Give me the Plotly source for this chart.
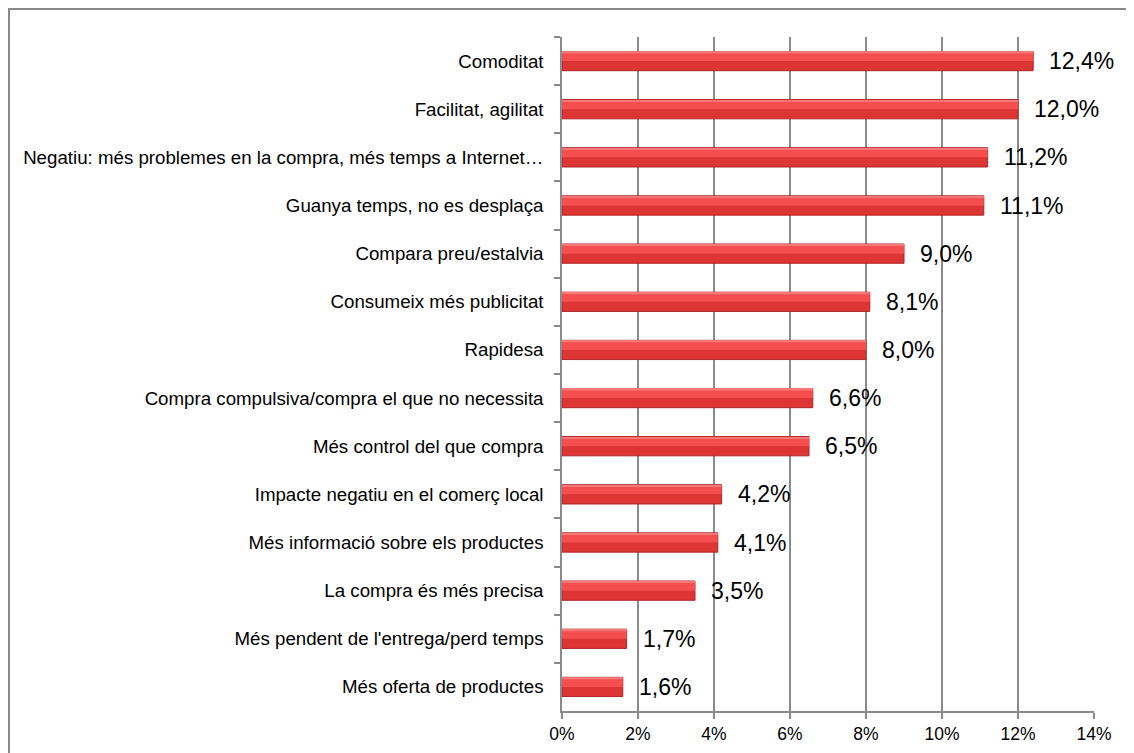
import plotly.graph_objects as go

categories = [
    "Comoditat",
    "Facilitat, agilitat",
    "Negatiu: més problemes en la compra, més temps a Internet…",
    "Guanya temps, no es desplaça",
    "Compara preu/estalvia",
    "Consumeix més publicitat",
    "Rapidesa",
    "Compra compulsiva/compra el que no necessita",
    "Més control del que compra",
    "Impacte negatiu en el comerç local",
    "Més informació sobre els productes",
    "La compra és més precisa",
    "Més pendent de l'entrega/perd temps",
    "Més oferta de productes",
]
values = [12.4, 12.0, 11.2, 11.1, 9.0, 8.1, 8.0, 6.6, 6.5, 4.2, 4.1, 3.5, 1.7, 1.6]
labels = [f"{v:.1f}%".replace(".", ",") for v in values]
x_ticks = [0, 2, 4, 6, 8, 10, 12, 14]
x_ticktext = [f"{t}%" for t in x_ticks]

FONT = "Liberation Sans, Arial, sans-serif"
W = 0.40
L, R, T, B = 554, 48, 29, 50
PW, PH = 1134 - L - R, 753 - T - B

fig = go.Figure()
# base bar (darker lower part)
fig.add_trace(go.Bar(
    y=categories, x=values, orientation="h", width=W, offset=-W / 2,
    marker=dict(color="#dd3434", line=dict(color="#b02626", width=1)),
    hoverinfo="skip", showlegend=False,
))
# upper highlight
fig.add_trace(go.Bar(
    y=categories, x=values, orientation="h", width=W * 0.45, offset=-W / 2 + 0.02,
    marker=dict(color="#f44e4e", line=dict(width=0)),
    hoverinfo="skip", showlegend=False,
))
# thin top light line
fig.add_trace(go.Bar(
    y=categories, x=values, orientation="h", width=W * 0.08, offset=-W / 2 + 0.01,
    marker=dict(color="#f87878", line=dict(width=0)),
    hoverinfo="skip", showlegend=False,
))

annotations = []
for c, v, t in zip(categories, values, labels):
    annotations.append(dict(
        x=v, y=c, xref="x", yref="y", text=t, showarrow=False,
        xanchor="left", yanchor="middle", xshift=14,
        font=dict(family=FONT, size=23, color="#000000"),
    ))

fig.update_layout(
    width=1134, height=753,
    margin=dict(l=L, r=R, t=T, b=B, autoexpand=False),
    paper_bgcolor="white", plot_bgcolor="white",
    barmode="overlay",
    font=dict(family=FONT, color="#000000"),
    annotations=annotations,
    xaxis=dict(
        range=[0, 14], tickvals=x_ticks, ticktext=x_ticktext,
        showgrid=True, gridcolor="#8a8a8a", gridwidth=1.5,
        showline=True, linecolor="#8a8a8a", linewidth=1.5,
        ticks="outside", ticklen=6, tickcolor="#8a8a8a", tickwidth=1.5,
        tickfont=dict(family=FONT, size=17.5, color="#000000"),
        zeroline=False, fixedrange=True,
    ),
    yaxis=dict(
        autorange="reversed", tickson="boundaries",
        showline=True, linecolor="#8a8a8a", linewidth=1.5,
        ticks="outside", ticklen=6, tickcolor="#8a8a8a", tickwidth=1.5,
        ticklabelstandoff=13,
        tickfont=dict(family=FONT, size=18.7, color="#000000"),
        showgrid=False, fixedrange=True,
    ),
    shapes=[dict(
        type="rect", xref="paper", yref="paper",
        x0=(1 - L) / PW, x1=(1200 - L) / PW,
        y0=-100 / PH, y1=1 + (T - 1) / PH,
        line=dict(color="#888888", width=2), fillcolor="rgba(0,0,0,0)",
        layer="below",
    )],
)

fig.write_html("out.html")
